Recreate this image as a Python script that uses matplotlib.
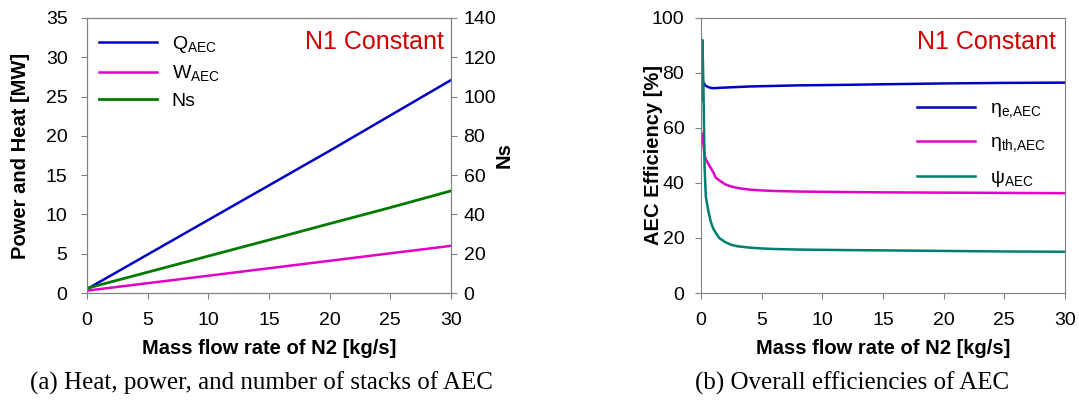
import matplotlib.pyplot as plt
import numpy as np

plt.rcParams['font.family'] = ['Liberation Sans', 'DejaVu Sans']
plt.rcParams['mathtext.fontset'] = 'custom'
plt.rcParams['mathtext.rm'] = 'Liberation Sans'

# (a) heat, power, stacks vs N2 mass flow
flow_a = [0.0, 5, 10, 15, 20, 25, 30]
q_aec = [0.5, 4.9, 9.3, 13.7, 18.1, 22.6, 27.1]
w_aec = [0.3, 1.25, 2.2, 3.15, 4.1, 5.05, 6.0]
ns = [2.4, 10.6, 18.8, 27.0, 35.3, 43.5, 52.0]

# (b) efficiencies vs N2 mass flow
flow_b = [0.05, 0.12, 0.2, 0.3, 0.4, 0.6, 0.8, 1.0, 1.2, 1.5, 2.0, 2.5, 3.0, 4.0, 5.0,
          6.0, 8.0, 10.0, 12.0, 15.0, 20.0, 25.0, 30.0]
eta_e = [77.5, 77.0, 76.5, 75.8, 75.3, 74.9, 74.6, 74.5, 74.5, 74.6, 74.7, 74.8, 74.9,
         75.1, 75.2, 75.3, 75.5, 75.6, 75.7, 75.9, 76.2, 76.4, 76.5]
eta_th = [58.0, 57.0, 54.0, 50.0, 48.5, 47.0, 45.5, 44.0, 42.0, 41.0, 39.5, 38.7, 38.2,
          37.6, 37.3, 37.1, 36.9, 36.8, 36.7, 36.6, 36.5, 36.4, 36.3]
psi = [70.0, 92.0, 75.0, 45.0, 35.0, 30.0, 26.0, 23.5, 22.0, 20.0, 18.5, 17.5, 17.0,
       16.5, 16.2, 16.0, 15.8, 15.7, 15.6, 15.5, 15.3, 15.1, 15.0]

SPINE = '#808080'
RED = '#d00000'
W, H = 1079, 404

fig = plt.figure(figsize=(W / 100, H / 100), dpi=100)
ax1 = fig.add_axes([87 / W, 1 - 293 / H, 364 / W, 275 / H])
ax2 = fig.add_axes([701 / W, 1 - 293 / H, 364 / W, 275 / H])


def style(ax, ypad):
    for s in ax.spines.values():
        s.set_color(SPINE)
    ax.tick_params(direction='out', length=4, color=SPINE, labelsize=14)
    ax.tick_params(axis='x', pad=10)
    ax.tick_params(axis='y', pad=ypad)


# --- panel (a)
l1, = ax1.plot(flow_a, q_aec, color='#0000c0', lw=1.8, label='Q$_\\mathregular{AEC}$')
l2, = ax1.plot(flow_a, w_aec, color='#e000c8', lw=1.8, label='W$_\\mathregular{AEC}$')
ax1b = ax1.twinx()
l3, = ax1b.plot(flow_a, ns, color='#007a00', lw=2.0, label='Ns')
ax1.set_xlim(0, 30)
ax1.set_ylim(0, 35)
ax1b.set_ylim(0, 140)
ax1.set_xticks(range(0, 31, 5))
ax1.set_yticks(range(0, 36, 5))
ax1b.set_yticks(range(0, 141, 20))
style(ax1, 10)
style(ax1b, 5)
ax1.set_xlabel('Mass flow rate of N2 [kg/s]', fontsize=14.5, fontweight='bold')
ax1.xaxis.set_label_coords(0.5, -46 / 275)
ax1.set_ylabel('Power and Heat [MW]', fontsize=14.5, fontweight='bold')
ax1.yaxis.set_label_coords(-57 / 364, 0.5)
ax1b.set_ylabel('Ns', fontsize=14.5, fontweight='bold')
ax1b.yaxis.set_label_coords(1 + 44 / 364, 0.5)
ax1.text(444 / W, 1 - 42 / H, 'N1 Constant', transform=fig.transFigure, ha='right',
         va='center', color=RED, fontsize=18)
ax1.legend(handles=[l1, l2, l3], loc='upper left', frameon=False, fontsize=14,
           handlelength=3.0, handletextpad=0.75, labelspacing=0.45, borderaxespad=0,
           bbox_to_anchor=(91 / W, 1 - 26 / H), bbox_transform=fig.transFigure)

# --- panel (b)
ax2.plot(flow_b, eta_e, color='#0000c0', lw=1.8, label='η$_\\mathregular{e{,}AEC}$')
ax2.plot(flow_b, eta_th, color='#e000c8', lw=1.8, label='η$_\\mathregular{th{,}AEC}$')
ax2.plot(flow_b, psi, color='#007f6e', lw=1.8, label='ψ$_\\mathregular{AEC}$')
ax2.set_xlim(0, 30)
ax2.set_ylim(0, 100)
ax2.set_xticks(range(0, 31, 5))
ax2.set_yticks(range(0, 101, 20))
style(ax2, 8)
ax2.set_xlabel('Mass flow rate of N2 [kg/s]', fontsize=14.5, fontweight='bold')
ax2.xaxis.set_label_coords(0.5, -46 / 275)
ax2.set_ylabel('AEC Efficiency [%]', fontsize=14.5, fontweight='bold')
ax2.yaxis.set_label_coords(-38 / 364, 0.5)
ax2.text(1056 / W, 1 - 42 / H, 'N1 Constant', transform=fig.transFigure, ha='right',
         va='center', color=RED, fontsize=18)
ax2.legend(loc='upper left', frameon=False, fontsize=14, handlelength=3.0,
           handletextpad=0.75, labelspacing=0.7, borderaxespad=0,
           bbox_to_anchor=(909 / W, 1 - 92 / H), bbox_transform=fig.transFigure)

# captions
fig.text(261 / W, 1 - 383 / H, '(a) Heat, power, and number of stacks of AEC',
         ha='center', va='center', fontsize=18, family='Liberation Serif')
fig.text(852 / W, 1 - 383 / H, '(b) Overall efficiencies of AEC',
         ha='center', va='center', fontsize=18, family='Liberation Serif')

fig.savefig('out.png', dpi=100)
